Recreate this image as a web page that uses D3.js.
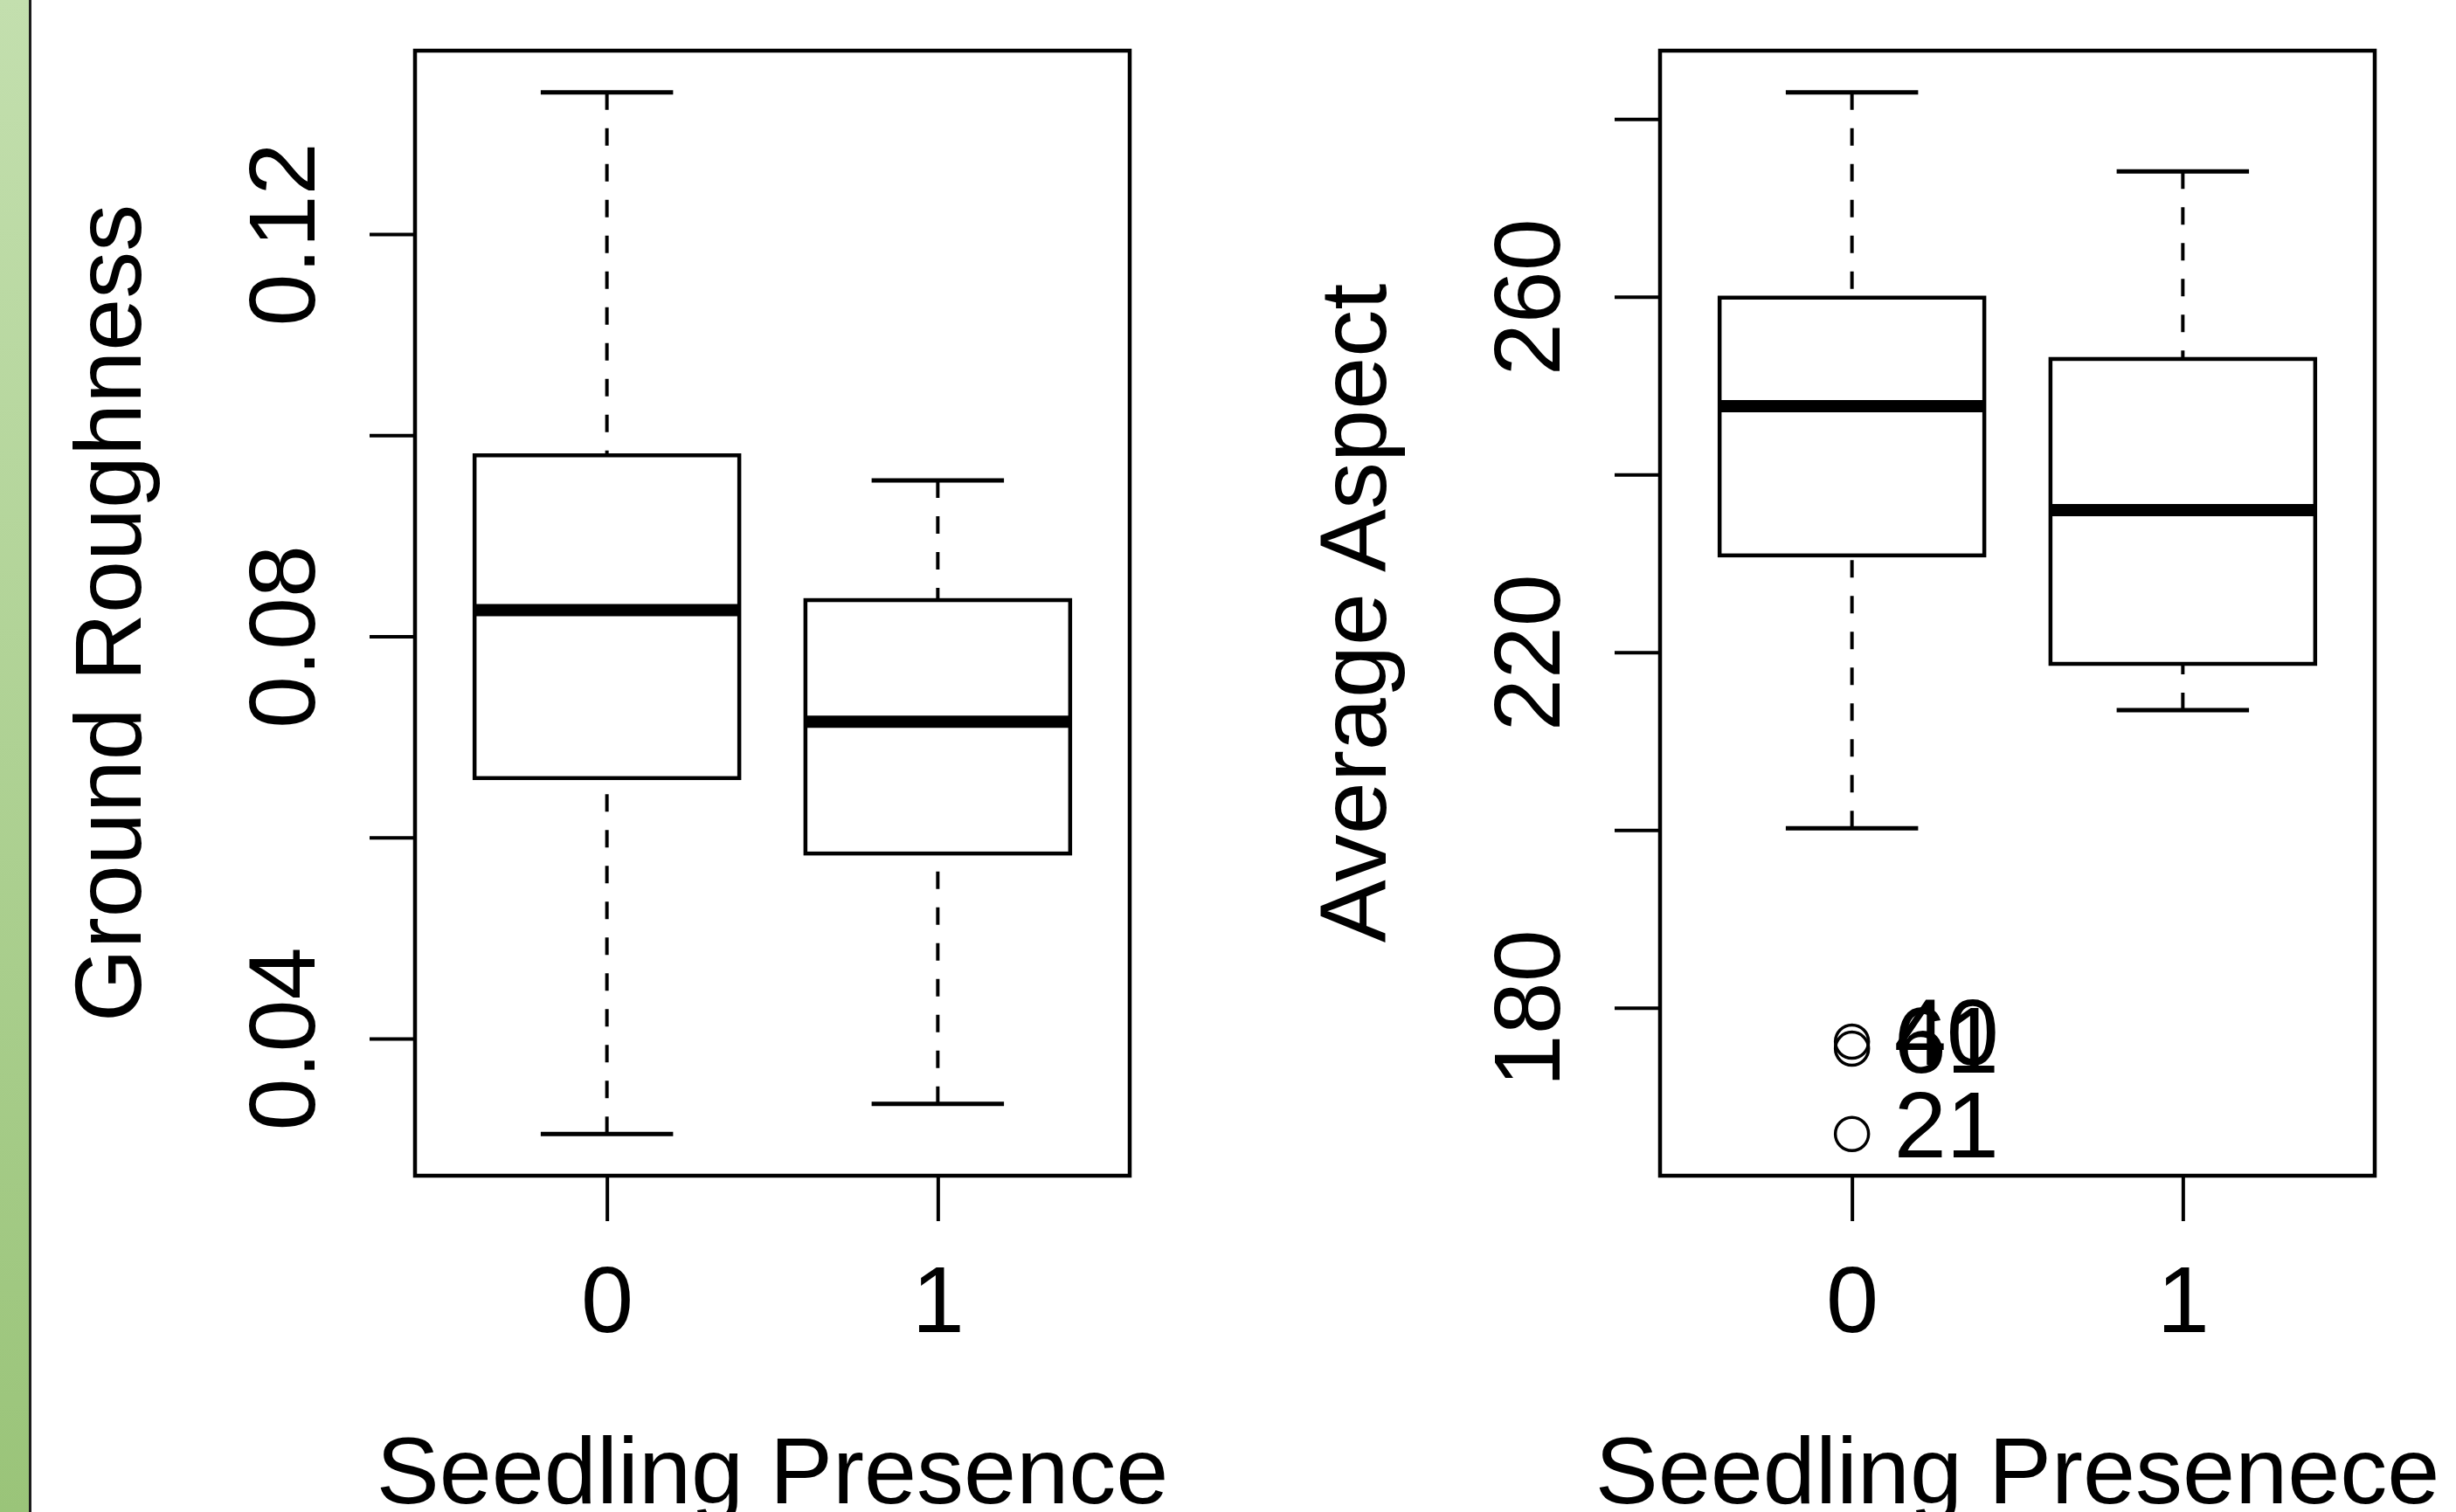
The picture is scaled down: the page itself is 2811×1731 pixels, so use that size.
<!DOCTYPE html>
<html>
<head>
<meta charset="utf-8">
<script src="https://cdn.jsdelivr.net/npm/d3@7"></script>
<style>
	body { margin: 0; background: #fff; }
	svg { display: block; }
	text { font-family: "Liberation Sans", Arial, Helvetica, sans-serif; fill: #000; }
</style>
</head>
<body>
<svg id="chart" width="2811" height="1731"></svg>
<script>

var groups = [ 1, 2 ];
var groupLabels = [ '0', '1' ];

// Ground Roughness, five number summary per group
var roughLow = [ 0.0305, 0.0335 ];
var roughQ1 = [ 0.0659, 0.0584 ];
var roughMed = [ 0.0826, 0.0715 ];
var roughQ3 = [ 0.0980, 0.0836 ];
var roughHigh = [ 0.1341, 0.0955 ];
var roughTicks = [ 0.04, 0.06, 0.08, 0.10, 0.12 ];
var roughTickLabels = [ '0.04', '', '0.08', '', '0.12' ];

// Average Aspect
var aspectLow = [ 200.2, 213.5 ];
var aspectQ1 = [ 230.9, 218.7 ];
var aspectMed = [ 247.7, 236.0 ];
var aspectQ3 = [ 259.9, 253.0 ];
var aspectHigh = [ 283.0, 274.1 ];
var aspectTicks = [ 180, 200, 220, 240, 260, 280 ];
var aspectTickLabels = [ '180', '', '220', '', '260', '' ];

var outlierGroup = [ 1, 1, 1 ];
var outlierValues = [ 176.2, 175.4, 165.8 ];
var outlierLabels = [ '40', '61', '21' ];

var panelW = 818,
	panelH = 1288,
	panelTop = 58,
	fontSize = 108;

var svg = d3.select( '#chart' );

// green strip on the left edge
var grad = svg.append( 'defs' ).append( 'linearGradient' )
	.attr( 'id', 'strip' )
	.attr( 'x1', 0 ).attr( 'y1', 0 ).attr( 'x2', 0 ).attr( 'y2', 1 );
grad.append( 'stop' ).attr( 'offset', '0%' ).attr( 'stop-color', '#c3dfae' );
grad.append( 'stop' ).attr( 'offset', '100%' ).attr( 'stop-color', '#9ac479' );

svg.append( 'rect' )
	.attr( 'x', 0 ).attr( 'y', 0 )
	.attr( 'width', 34 ).attr( 'height', 1731 )
	.attr( 'fill', 'url(#strip)' );
svg.append( 'line' )
	.attr( 'x1', 34.5 ).attr( 'x2', 34.5 )
	.attr( 'y1', 0 ).attr( 'y2', 1731 )
	.attr( 'stroke', '#1c1c1c' )
	.attr( 'stroke-width', 3 );

function drawPanel( left, opts ) {

	var g = svg.append( 'g' ).attr( 'transform', 'translate(' + left + ',' + panelTop + ')' );

	var all = opts.low.concat( opts.high, opts.outliers || [] );
	var lo = d3.min( all ), hi = d3.max( all );
	var pad = ( hi - lo ) * 0.04;

	var y = d3.scaleLinear()
		.domain( [ lo - pad, hi + pad ] )
		.range( [ panelH, 0 ] );

	var x = d3.scaleLinear()
		.domain( [ 0.42, 2.58 ] )
		.range( [ 0, panelW ] );

	var boxHalf = ( x( 1.4 ) - x( 1 ) );
	var capHalf = ( x( 1.2 ) - x( 1 ) );

	// y axis
	var yAxis = g.append( 'g' )
		.call( d3.axisLeft( y )
			.tickValues( opts.ticks )
			.tickFormat( function ( d, i ) { return opts.tickLabels[i]; } )
			.tickSize( 52 )
			.tickSizeOuter( 0 ) );
	yAxis.select( '.domain' ).remove();
	yAxis.selectAll( '.tick line' ).attr( 'stroke', '#000' ).attr( 'stroke-width', 4 );
	yAxis.selectAll( '.tick text' )
		.attr( 'x', null ).attr( 'dy', null )
		.attr( 'transform', 'translate(-115,0) rotate(-90)' )
		.attr( 'text-anchor', 'middle' )
		.style( 'font-size', fontSize + 'px' )
		.style( 'font-family', '"Liberation Sans", Arial, sans-serif' );

	// x axis
	var xAxis = g.append( 'g' )
		.attr( 'transform', 'translate(0,' + panelH + ')' )
		.call( d3.axisBottom( x )
			.tickValues( groups )
			.tickFormat( function ( d, i ) { return groupLabels[i]; } )
			.tickSize( 52 )
			.tickSizeOuter( 0 ) );
	xAxis.select( '.domain' ).remove();
	xAxis.selectAll( '.tick line' ).attr( 'stroke', '#000' ).attr( 'stroke-width', 4 );
	xAxis.selectAll( '.tick text' )
		.attr( 'y', 179 ).attr( 'dy', null )
		.style( 'font-size', fontSize + 'px' )
		.style( 'font-family', '"Liberation Sans", Arial, sans-serif' );

	// axis titles
	g.append( 'text' )
		.attr( 'transform', 'translate(' + ( -314 ) + ',' + ( panelH / 2 ) + ') rotate(-90)' )
		.attr( 'text-anchor', 'middle' )
		.style( 'font-size', fontSize + 'px' )
		.text( opts.yTitle );

	g.append( 'text' )
		.attr( 'x', panelW / 2 )
		.attr( 'y', panelH + 375 )
		.attr( 'text-anchor', 'middle' )
		.style( 'font-size', fontSize + 'px' )
		.text( opts.xTitle );

	var box = g.selectAll( '.bx' )
		.data( groups )
		.enter()
		.append( 'g' )
		.classed( 'bx', true );

	// whiskers (from extremes to the box)
	box.append( 'line' )
		.attr( 'x1', function ( d ) { return x( d ); } )
		.attr( 'x2', function ( d ) { return x( d ); } )
		.attr( 'y1', function ( d, i ) { return y( opts.high[i] ); } )
		.attr( 'y2', function ( d, i ) { return y( opts.q3[i] ); } )
		.attr( 'stroke', '#000' ).attr( 'stroke-width', 4 )
		.attr( 'stroke-dasharray', '20,21' );
	box.append( 'line' )
		.attr( 'x1', function ( d ) { return x( d ); } )
		.attr( 'x2', function ( d ) { return x( d ); } )
		.attr( 'y1', function ( d, i ) { return y( opts.low[i] ); } )
		.attr( 'y2', function ( d, i ) { return y( opts.q1[i] ); } )
		.attr( 'stroke', '#000' ).attr( 'stroke-width', 4 )
		.attr( 'stroke-dasharray', '20,21' );

	// caps
	[ opts.high, opts.low ].forEach( function ( arr ) {
		box.append( 'line' )
			.attr( 'x1', function ( d ) { return x( d ) - capHalf; } )
			.attr( 'x2', function ( d ) { return x( d ) + capHalf; } )
			.attr( 'y1', function ( d, i ) { return y( arr[i] ); } )
			.attr( 'y2', function ( d, i ) { return y( arr[i] ); } )
			.attr( 'stroke', '#000' ).attr( 'stroke-width', 5 );
	} );

	// boxes
	box.append( 'rect' )
		.attr( 'x', function ( d ) { return x( d ) - boxHalf; } )
		.attr( 'width', boxHalf * 2 )
		.attr( 'y', function ( d, i ) { return y( opts.q3[i] ); } )
		.attr( 'height', function ( d, i ) { return y( opts.q1[i] ) - y( opts.q3[i] ); } )
		.attr( 'fill', '#fff' )
		.attr( 'stroke', '#000' ).attr( 'stroke-width', 4.5 );

	// medians
	box.append( 'line' )
		.attr( 'x1', function ( d ) { return x( d ) - boxHalf; } )
		.attr( 'x2', function ( d ) { return x( d ) + boxHalf; } )
		.attr( 'y1', function ( d, i ) { return y( opts.med[i] ); } )
		.attr( 'y2', function ( d, i ) { return y( opts.med[i] ); } )
		.attr( 'stroke', '#000' ).attr( 'stroke-width', 14 );

	// outliers with labels
	if ( opts.outliers ) {
		var pts = g.selectAll( '.out' )
			.data( opts.outliers )
			.enter()
			.append( 'g' )
			.classed( 'out', true )
			.attr( 'transform', function ( d, i ) {
				return 'translate(' + x( opts.outlierGroup[i] ) + ',' + y( d ) + ')';
			} );
		pts.append( 'circle' )
			.attr( 'r', 19 )
			.attr( 'fill', 'none' )
			.attr( 'stroke', '#000' ).attr( 'stroke-width', 3.5 );
		pts.append( 'text' )
			.attr( 'x', 48 )
			.attr( 'y', 27 )
			.style( 'font-size', fontSize + 'px' )
			.text( function ( d, i ) { return opts.outlierLabels[i]; } );
	}

	// frame
	g.append( 'rect' )
		.attr( 'width', panelW ).attr( 'height', panelH )
		.attr( 'fill', 'none' )
		.attr( 'stroke', '#000' ).attr( 'stroke-width', 4.5 );
}

drawPanel( 475, {
	low: roughLow, q1: roughQ1, med: roughMed, q3: roughQ3, high: roughHigh,
	ticks: roughTicks, tickLabels: roughTickLabels,
	yTitle: 'Ground Roughness', xTitle: 'Seedling Presence'
} );

drawPanel( 1900, {
	low: aspectLow, q1: aspectQ1, med: aspectMed, q3: aspectQ3, high: aspectHigh,
	ticks: aspectTicks, tickLabels: aspectTickLabels,
	outliers: outlierValues, outlierGroup: outlierGroup, outlierLabels: outlierLabels,
	yTitle: 'Average Aspect', xTitle: 'Seedling Presenece'
} );

</script>
</body>
</html>
